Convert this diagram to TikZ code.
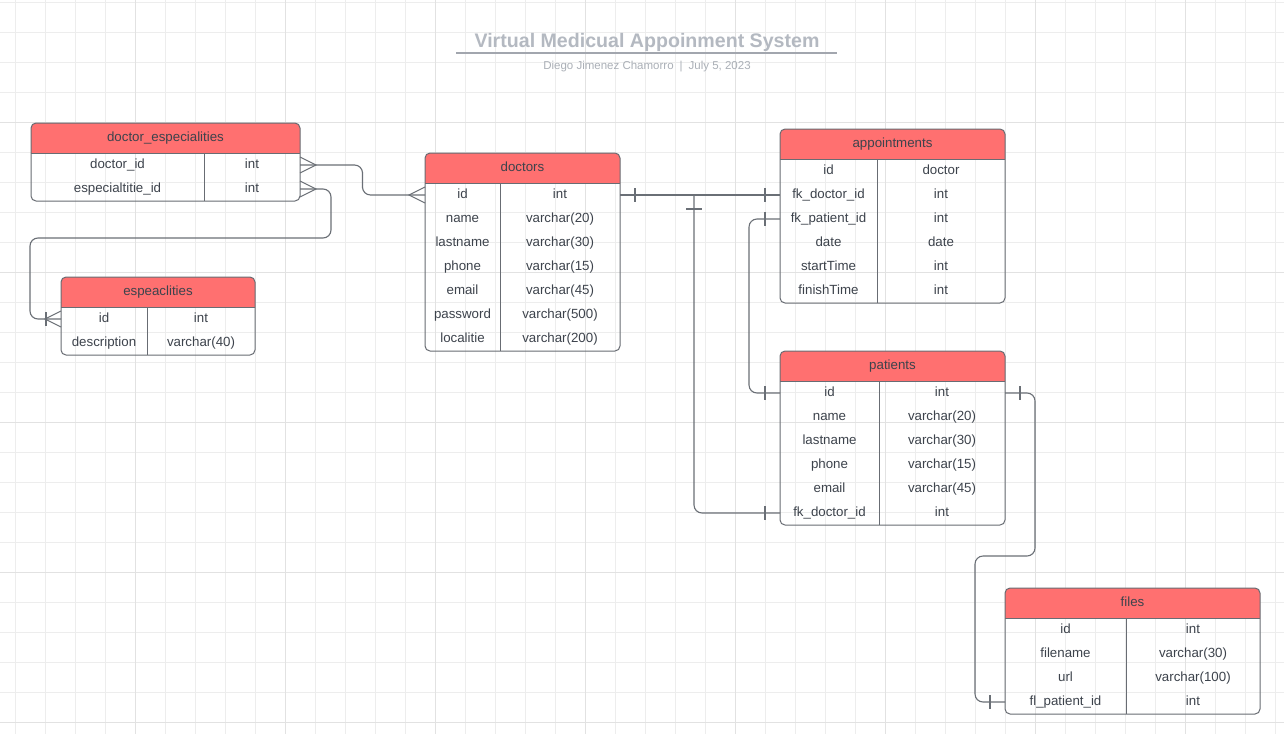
\documentclass[tikz,border=0pt]{standalone}
\usepackage{fontspec}
\setmainfont{Liberation Sans}
\usetikzlibrary{calc}

\definecolor{headred}{HTML}{FF7070}
\definecolor{edgegrey}{HTML}{686C73}
\definecolor{linkgrey}{HTML}{6A6F76}
\definecolor{textgrey}{HTML}{3D434C}
\definecolor{titlegrey}{HTML}{B4B9C1}
\definecolor{gridlight}{HTML}{EDEDED}
\definecolor{griddark}{HTML}{E2E2E2}

\tikzset{
  header/.style={fill=headred},
  tableline/.style={draw=edgegrey, line width=1pt},
  conn/.style={draw=linkgrey, line width=1.1pt},
  celltext/.style={text=textgrey, font=\fontsize{13.3}{16}\selectfont, inner sep=0pt,
    text height=10pt, text depth=3pt},
  headtext/.style={celltext},
  gridminor/.style={draw=gridlight, line width=1pt},
  gridmajor/.style={draw=griddark, line width=1pt},
  crowmany/.pic={\draw[conn] (0,-8) -- (16,0) -- (0,8);},
  crowone/.pic={\draw[conn] (15,-7) -- (15,7);}
}

% table: name, left, top, width, key column width, rows, title, fields
\newcommand{\ertable}[8]{%
  \pgfmathsetmacro{\tabh}{30+24*#6}
  \begin{scope}
    \clip (#2,#3) rectangle ++(#4,30);
    \fill[header, rounded corners=5] (#2,#3) rectangle ++(#4,\tabh);
  \end{scope}
  \draw[tableline] (#2,#3+30) -- ++(#4,0);
  \draw[tableline] (#2+#5,#3+30) -- ++(0,24*#6);
  \draw[tableline, rounded corners=5] (#2,#3) rectangle ++(#4,\tabh);
  \node[headtext] (#1-title) at (#2+#4/2,#3+15) {#7};
  \foreach \fld/\typ [count=\i] in {#8} {
    \node[celltext] (#1-\i-field) at (#2+#5/2,#3+18+24*\i) {\fld};
    \node[celltext] (#1-\i-type) at (#2+#5+#4/2-#5/2,#3+18+24*\i) {\typ};
    \coordinate (#1-\i-w) at (#2,#3+18+24*\i);
    \coordinate (#1-\i-e) at (#2+#4,#3+18+24*\i);
  }
}

\begin{document}
\begin{tikzpicture}[x=1pt, y=-1pt]

    % Fix the page
    \useasboundingbox[fill=white] (0,0) rectangle (1284,734);

    % Draw the grid
    \foreach \gx in {15,45,...,1275} \draw[gridminor] (\gx,0) -- (\gx,734);
    \foreach \gy in {2,32,...,722} \draw[gridminor] (0,\gy) -- (1284,\gy);
    \foreach \gx in {135,285,...,1185} \draw[gridmajor] (\gx,0) -- (\gx,734);
    \foreach \gy in {122,272,...,722} \draw[gridmajor] (0,\gy) -- (1284,\gy);

    % Title block
    \node[text=titlegrey, font=\bfseries\fontsize{19.6}{22}\selectfont, inner sep=0pt, anchor=base] (title) at (647,47) {Virtual Medicual Appoinment System};
    \draw[draw=titlegrey!90!black, line width=1.5pt] (456,53) -- (837,53);
    \node[text=titlegrey!95!black, font=\fontsize{11.5}{13}\selectfont, inner sep=0pt, anchor=base] (subtitle) at (647,69) {Diego Jimenez Chamorro\hspace{6pt}|\hspace{6pt}July 5, 2023};

    % Draw the tables
    \ertable{docesp}{31}{123}{269}{173}{2}{doctor\_especialities}
      {doctor\_id/int, especialtitie\_id/int}
    \ertable{doctors}{425}{153}{195}{75}{7}{doctors}
      {id/int, name/varchar(20), lastname/varchar(30), phone/varchar(15),
       email/varchar(45), password/varchar(500), localitie/varchar(200)}
    \ertable{appts}{780}{129}{225}{97}{6}{appointments}
      {id/doctor, fk\_doctor\_id/int, fk\_patient\_id/int, date/date,
       startTime/int, finishTime/int}
    \ertable{espec}{61}{277}{194}{86}{2}{espeaclities}
      {id/int, description/varchar(40)}
    \ertable{patients}{780}{351}{225}{99}{6}{patients}
      {id/int, name/varchar(20), lastname/varchar(30), phone/varchar(15),
       email/varchar(45), fk\_doctor\_id/int}
    \ertable{files}{1005}{588}{255}{121}{4}{files}
      {id/int, filename/varchar(30), url/varchar(100), fl\_patient\_id/int}

    % doctor_especialities -- doctors
    \draw[conn, rounded corners=8] (docesp-1-e) -| ($(docesp-1-e)!0.5!(doctors-1-w)$) |- (doctors-1-w);
    \pic at (docesp-1-e) {crowmany};
    \pic[xscale=-1] at (doctors-1-w) {crowmany};

    % doctor_especialities -- espeaclities
    \draw[conn, rounded corners=8] (docesp-2-e) -| (331,238) -| (30,280) |- (espec-1-w);
    \pic at (docesp-2-e) {crowmany};
    \pic[xscale=-1] at (espec-1-w) {crowmany};
    \pic[xscale=-1] at (espec-1-w) {crowone};

    % doctors -- appointments and patients
    \coordinate (split) at (694,195);
    \draw[conn] (doctors-1-e) -- (appts-2-w);
    \draw[conn, rounded corners=8] (split) |- (patients-6-w);
    \draw[conn] ($(split)+(-8,14)$) -- ($(split)+(8,14)$);
    \pic at (doctors-1-e) {crowone};
    \pic[xscale=-1] at (appts-2-w) {crowone};
    \pic[xscale=-1] at (patients-6-w) {crowone};

    % appointments -- patients
    \draw[conn, rounded corners=8] (appts-3-w) -| (749,300) |- (patients-1-w);
    \pic[xscale=-1] at (appts-3-w) {crowone};
    \pic[xscale=-1] at (patients-1-w) {crowone};

    % patients -- files
    \draw[conn, rounded corners=8] (patients-1-e) -| (1035,556) -| (975,650) |- (files-4-w);
    \pic at (patients-1-e) {crowone};
    \pic[xscale=-1] at (files-4-w) {crowone};

\end{tikzpicture}
\end{document}
